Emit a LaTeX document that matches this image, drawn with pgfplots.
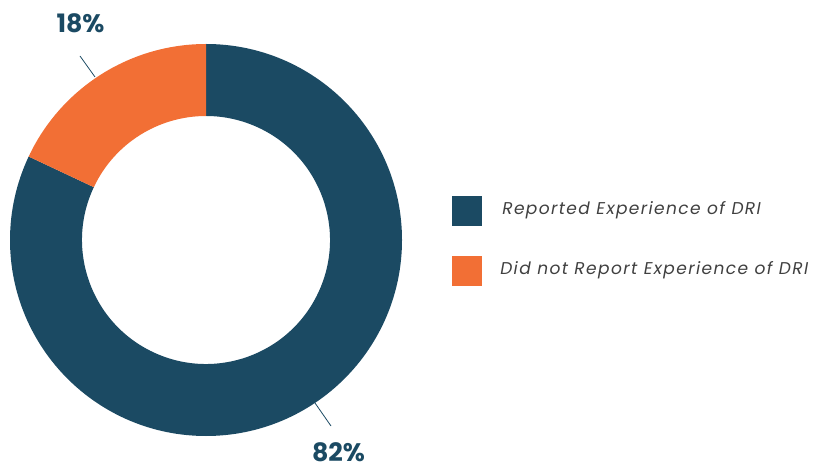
\documentclass[border=0pt]{standalone}
\usepackage{pgfplots}
\pgfplotsset{compat=1.18}
\usepackage{fontspec}
\setmainfont{Poppins}
\newfontfamily\legfont[LetterSpace=8]{Poppins}
\definecolor{drdark}{HTML}{1B4A63}
\definecolor{drorange}{HTML}{F26F35}
\definecolor{txtgray}{HTML}{404040}
% shares in percent
\def\shareA{82}
\def\shareB{18}
\pgfmathsetmacro\angA{90}
\pgfmathsetmacro\angB{90-\shareA*3.6}
\pgfmathsetmacro\angC{\angB-\shareB*3.6}
\def\cx{206}\def\cy{224}
\def\Ro{196}\def\Ri{124}

\begin{document}
\begin{tikzpicture}
\begin{axis}[
    x=0.75pt, y=0.75pt, scale only axis,
    xmin=0, xmax=813, ymin=0, ymax=464,
    hide axis, clip=false,
]
\coordinate (bl) at (axis cs:0,0);
\coordinate (tr) at (axis cs:813,464);
% donut slices
\fill[drdark] (axis cs:{\cx+\Ro*cos(\angA)},{\cy+\Ro*sin(\angA)})
    arc[start angle=\angA, end angle=\angB, radius=147pt]
    -- (axis cs:{\cx+\Ri*cos(\angB)},{\cy+\Ri*sin(\angB)})
    arc[start angle=\angB, end angle=\angA, radius=93pt] -- cycle;
\fill[drorange] (axis cs:{\cx+\Ro*cos(\angB)},{\cy+\Ro*sin(\angB)})
    arc[start angle=\angB, end angle=\angC, radius=147pt]
    -- (axis cs:{\cx+\Ri*cos(\angC)},{\cy+\Ri*sin(\angC)})
    arc[start angle=\angC, end angle=\angB, radius=93pt] -- cycle;
% labels
\draw[drdark, line width=0.6pt] (axis cs:80,408) -- (axis cs:95,387);
\draw[drdark, line width=0.6pt] (axis cs:315,61) -- (axis cs:331,38);
\node[anchor=base, inner sep=0pt, font=\fontsize{19}{19}\selectfont\bfseries, text=drdark] at (axis cs:80.5,431) {18\%};
\node[anchor=base, inner sep=0pt, font=\fontsize{19}{19}\selectfont\bfseries, text=drdark] at (axis cs:338.5,2.5) {82\%};
% legend
\fill[drdark] (axis cs:452,238) rectangle (axis cs:482,268);
\fill[drorange] (axis cs:452,178) rectangle (axis cs:482,208);
\node[anchor=base west, inner sep=0pt, text=txtgray, font=\legfont\fontsize{12.8}{12.8}\selectfont\itshape] at (axis cs:502,249) {Reported Experience of DRI};
\node[anchor=base west, inner sep=0pt, text=txtgray, font=\legfont\fontsize{12.8}{12.8}\selectfont\itshape] at (axis cs:500,189) {Did not Report Experience of DRI};
\end{axis}
\pgfresetboundingbox
\useasboundingbox (bl) rectangle (tr);
\end{tikzpicture}
\end{document}
